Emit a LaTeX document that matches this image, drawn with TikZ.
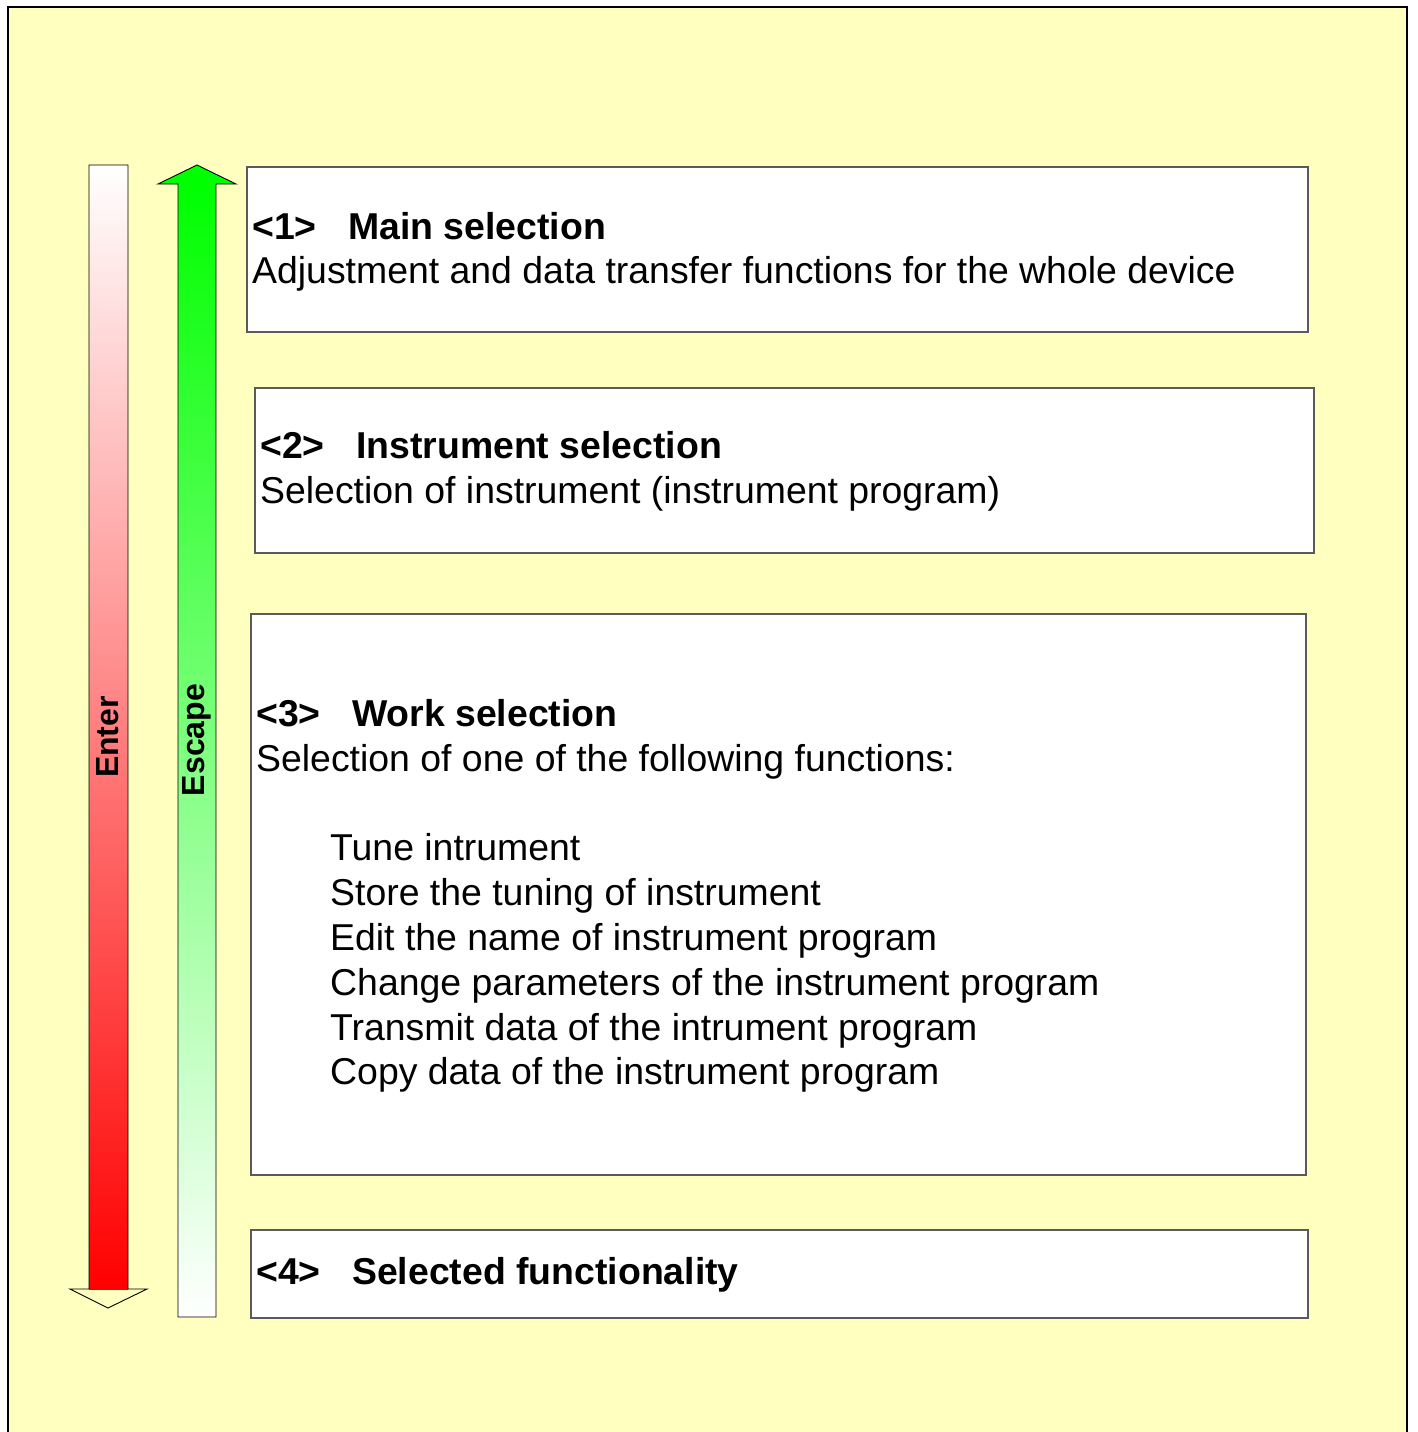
\documentclass[tikz,border=0pt]{standalone}
\usepackage{fontspec}
\setmainfont{Liberation Sans}
\usepackage{xcolor}

\definecolor{bgyellow}{RGB}{255,255,192}
\definecolor{boxgray}{RGB}{90,90,90}
\definecolor{arrowgreen}{RGB}{0,255,0}
\definecolor{arrowred}{RGB}{255,0,0}

\begin{document}
\begin{tikzpicture}[x=1pt,y=-1pt,
  every node/.style={font=\fontsize{37.4}{45}\selectfont},
  box/.style={draw=boxgray,line width=1.5pt,fill=white,inner sep=0pt,anchor=north west},
  txt/.style={inner sep=0pt,anchor=base west},
  head/.style={txt,font=\fontsize{37.4}{45}\selectfont\bfseries},
  side/.style={rotate=90,font=\fontsize{32}{40}\selectfont\bfseries}]
\useasboundingbox (0,0) rectangle (1417,1432);
\fill[bgyellow] (8,7) rectangle (1407,1445);
\draw[line width=2.2pt] (8,1445) -- (8,7) -- (1407,7) -- (1407,1445);
% Enter arrow
\shade[top color=white,bottom color=arrowred] (89,165) rectangle (128,1289);
\draw[line width=0.9pt] (89,1289) -- (89,165) -- (128,165) -- (128,1289) -- (147,1289) -- (108,1308) -- (70,1289) -- cycle;
\node[side] (enter) at (108,737) {Enter};
% Escape arrow
\shade[top color=arrowgreen,bottom color=white] (178,184) rectangle (216,1317);
\fill[arrowgreen] (158,184) -- (197,165) -- (236,184) -- cycle;
\draw[line width=0.9pt] (178,1317) -- (178,184) -- (158,184) -- (197,165) -- (236,184) -- (216,184) -- (216,1317) -- cycle;
\node[side] (escape) at (197,740) {Escape};
% level boxes
\node[box,minimum width=1061pt,minimum height=165pt] (mainbox) at (246,166) {};
\node[head] (mainnum) at (252,239) {<1>};
\node[head] (maintitle) at (348,239) {Main selection};
\node[txt] (maintext) at (252,283) {Adjustment and data transfer functions for the whole device};
\node[box,minimum width=1059pt,minimum height=165pt] (instbox) at (254,387) {};
\node[head] (instnum) at (260,458) {<2>};
\node[head] (insttitle) at (356,458) {Instrument selection};
\node[txt] (insttext) at (260,503) {Selection of instrument (instrument program)};
\node[box,minimum width=1055pt,minimum height=561pt] (workbox) at (250,613) {};
\node[head] (worknum) at (256,726) {<3>};
\node[head] (worktitle) at (352,726) {Work selection};
\node[txt] (worktext) at (256,771) {Selection of one of the following functions:};
\node[txt] (tune) at (330,860) {Tune intrument};
\node[txt] (store) at (330,905) {Store the tuning of instrument};
\node[txt] (edit) at (330,950) {Edit the name of instrument program};
\node[txt] (change) at (330,995) {Change parameters of the instrument program};
\node[txt] (transmit) at (330,1040) {Transmit data of the intrument program};
\node[txt] (copy) at (330,1084) {Copy data of the instrument program};
\node[box,minimum width=1057pt,minimum height=88pt] (funcbox) at (250,1229) {};
\node[head] (funcnum) at (256,1284) {<4>};
\node[head] (functitle) at (352,1284) {Selected functionality};
\end{tikzpicture}
\end{document}
